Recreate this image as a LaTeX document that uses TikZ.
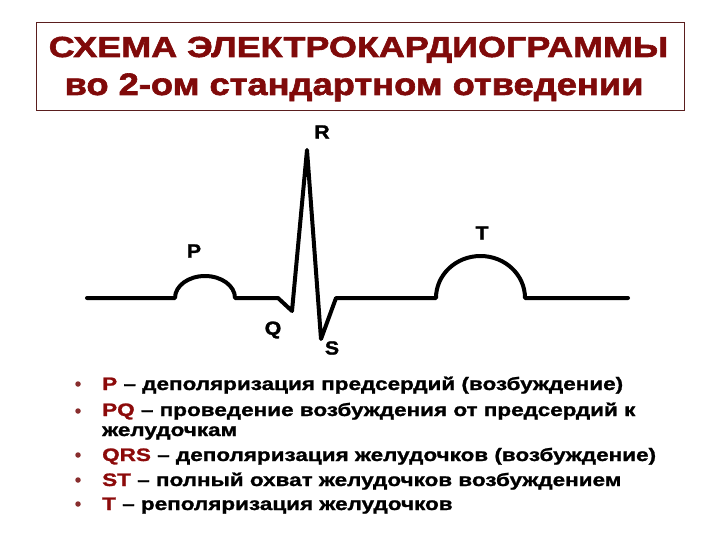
\documentclass[tikz,border=0pt]{standalone}
\usepackage{fontspec}
\setmainfont{Liberation Sans}
\newfontfamily\titleA{Liberation Sans Bold}[FakeStretch=1.24, FakeBold=2]
\newfontfamily\titleB{Liberation Sans Bold}[FakeStretch=1.17, FakeBold=2]
\newfontfamily\itemfont{Liberation Sans Bold}[FakeStretch=1.25, FakeBold=1.3]
\newfontfamily\lblfont{Liberation Sans Bold}[FakeStretch=1.12, FakeBold=1.5]
\definecolor{titlered}{RGB}{128,10,10}
\definecolor{boxline}{RGB}{90,30,30}
\definecolor{lblred}{RGB}{140,10,10}
\begin{document}
\begin{tikzpicture}[x=1pt,y=-1pt,
  titletext/.style={text=titlered, inner sep=0pt, anchor=base},
  wavelbl/.style={font=\lblfont\fontsize{19}{21}\selectfont, inner sep=0pt},
  itemtext/.style={font=\itemfont\fontsize{18}{20}\selectfont, inner sep=0pt, anchor=base west, align=left},
  bulletdot/.style={circle, fill=lblred!70!gray, inner sep=0pt, minimum size=5.5pt},
  ecg/.style={line width=4pt, line cap=round, line join=round}]
\useasboundingbox (0,0) rectangle (720,540);
% title box
\draw[boxline, line width=0.9pt] (36,22) rectangle (684,110);
\node[titletext, font=\titleA\fontsize{29}{32}\selectfont] (t1) at (358.5,57) {СХЕМА ЭЛЕКТРОКАРДИОГРАММЫ};
\node[titletext, font=\titleB\fontsize{31}{34}\selectfont] (t2) at (354,95) {во 2-ом стандартном отведении};
% ECG trace
\draw[ecg] (87,298) -- (175,298)
  arc[start angle=180, end angle=360, x radius=30, y radius=22]
  -- (278,298) -- (292,311) -- (307,150) -- (321,339) -- (336,298) -- (436,298)
  arc[start angle=180, end angle=360, x radius=44.5, y radius=42]
  -- (628,298);
% wave labels
\node[wavelbl] (lR) at (322,132) {R};
\node[wavelbl] (lT) at (482,233) {T};
\node[wavelbl] (lP) at (194,251) {P};
\node[wavelbl] (lQ) at (273,330) {Q};
\node[wavelbl] (lS) at (332,348) {S};
% bullet list
\node[bulletdot] (b1) at (78,384) {};
\node[itemtext] (i1) at (102,390) {\textcolor{lblred}{P} – деполяризация предсердий (возбуждение)};
\node[bulletdot] (b2) at (78,411) {};
\node[itemtext] (i2) at (102,436) {\textcolor{lblred}{PQ} – проведение возбуждения от предсердий к\\желудочкам};
\node[bulletdot] (b3) at (78,455) {};
\node[itemtext] (i3) at (102,461) {\textcolor{lblred}{QRS} – деполяризация желудочков (возбуждение)};
\node[bulletdot] (b4) at (78,480) {};
\node[itemtext] (i4) at (102,486) {\textcolor{lblred}{ST} – полный охват желудочков возбуждением};
\node[bulletdot] (b5) at (78,504) {};
\node[itemtext] (i5) at (102,510) {\textcolor{lblred}{T} – реполяризация желудочков};
\end{tikzpicture}
\end{document}
